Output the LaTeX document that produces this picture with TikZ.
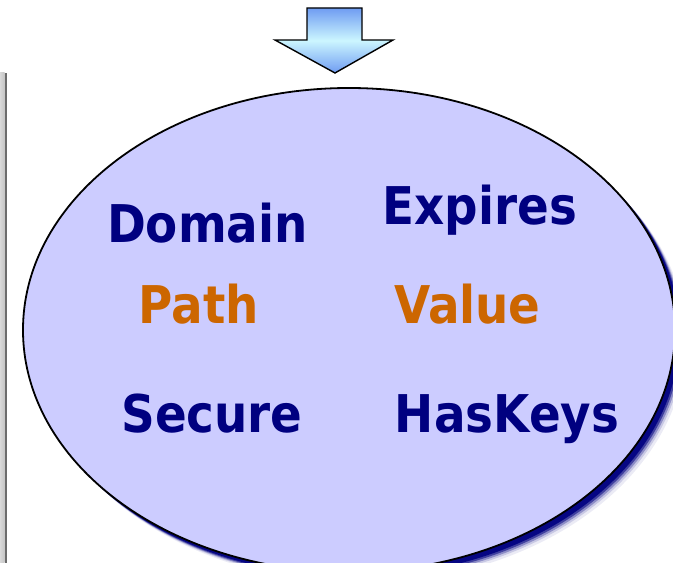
\documentclass[tikz,border=0pt]{standalone}
\usepackage{fontspec}
\setmainfont{DejaVu Sans}[FakeStretch=0.9]
\usetikzlibrary{shapes.geometric}
\definecolor{navy}{HTML}{000080}
\definecolor{rust}{HTML}{CC6600}
\definecolor{lav}{HTML}{CCCCFF}
\definecolor{arrblue}{HTML}{6F9CF2}
\definecolor{arrlight}{HTML}{CCF6FF}
\tikzset{
  word/.style={anchor=base, inner sep=0pt, font=\fontsize{52}{52}\selectfont\bfseries},
  navyword/.style={word, text=navy},
  rustword/.style={word, text=rust},
  cookie/.style={ellipse, draw=black, line width=1.8pt, fill=lav, minimum width=652pt, minimum height=484pt, inner sep=0pt},
}
\begin{document}
\begin{tikzpicture}[x=1pt,y=1pt]
\useasboundingbox (0,0) rectangle (673,563);
% left bar
\shade[left color=gray!30, right color=gray!45] (0,0) rectangle (4.5,490);
\fill[gray!85!black] (4.5,0) rectangle (7,490);
% shadow
\foreach \k/\o in {11/0.08,9/0.15,7.5/0.3,6/0.55,4.5/0.9}{
  \fill[navy, opacity=\o] (349+\k,233-\k) ellipse [x radius=326, y radius=242];
}
\node[cookie] (cookie) at (349,233) {};
% arrow
\shade[draw=black, line width=1.4pt, line join=miter, top color=arrblue, bottom color=arrblue, middle color=arrlight]
  (307,555) -- (362,555) -- (362,523) -- (393,523) -- (335,490) -- (275,523) -- (307,523) -- cycle;
\coordinate (arrowtip) at (335,490);
% words
\node[navyword] (domain) at (207.5,320) {Domain};
\node[navyword] (expires) at (480,338) {Expires};
\node[rustword] (path) at (199,239) {Path};
\node[rustword] (value) at (467.5,239) {Value};
\node[navyword] (secure) at (212,130) {Secure};
\node[navyword] (haskeys) at (507,130) {HasKeys};
\end{tikzpicture}
\end{document}
